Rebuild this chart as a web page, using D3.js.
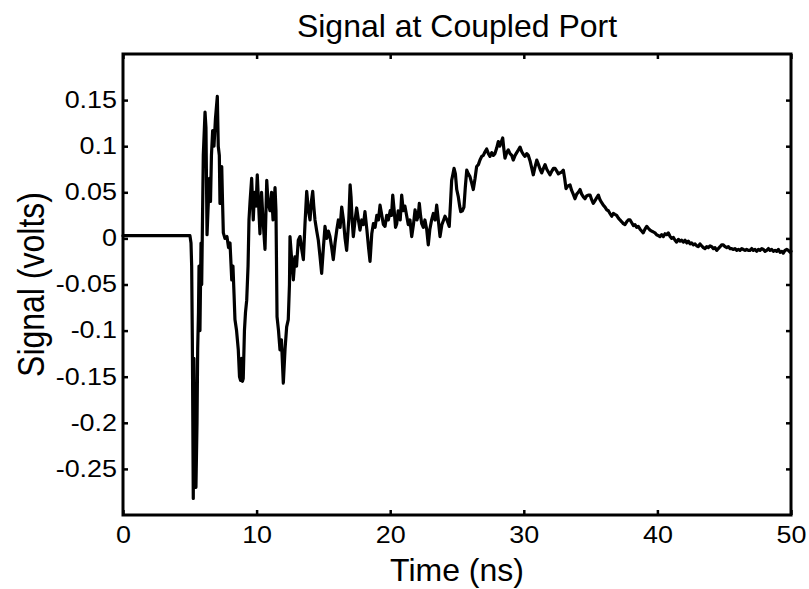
<!DOCTYPE html>
<html>
<head>
<meta charset="utf-8">
<script src="https://cdn.jsdelivr.net/npm/d3@7"></script>
<style>
  html, body { margin: 0; padding: 0; background: #fff; }
  text { font-family: "Liberation Sans", Arial, Helvetica, sans-serif; fill: #000; }
</style>
</head>
<body>
<svg id="chart" width="809" height="589"></svg>
<script>
// ---- data ----
const timeNs = [
  0.00, 4.95, 5.01, 5.09, 5.14, 5.19, 5.26, 5.31, 5.39, 5.46, 5.54, 5.59, 5.65, 5.69, 5.76, 5.84, 5.89, 5.95,
  6.01, 6.14, 6.21, 6.29, 6.36, 6.47, 6.55, 6.62, 6.71, 6.81, 6.92, 7.06, 7.13, 7.21, 7.26, 7.34, 7.39, 7.45,
  7.51, 7.63, 7.78, 7.90, 8.01, 8.14, 8.23, 8.31, 8.38, 8.50, 8.63, 8.72, 8.80, 8.87, 8.94, 9.00, 9.09, 9.17,
  9.26, 9.36, 9.43, 9.51, 9.63, 9.75, 9.84, 9.96, 10.05, 10.14, 10.25, 10.37, 10.48, 10.63, 10.76, 10.85,
  11.00, 11.12, 11.23, 11.38, 11.45, 11.53, 11.64, 11.75, 11.86, 12.00, 12.13, 12.25, 12.37, 12.46, 12.50,
  12.61, 12.75, 12.87, 12.99, 13.12,
  13.25, 13.38, 13.50, 13.62, 13.75, 13.88, 14.00, 14.10, 14.20, 14.28, 14.37, 14.50, 14.62, 14.75, 14.87,
  15.00, 15.12, 15.25, 15.37, 15.49, 15.62, 15.74, 15.87, 16.00, 16.12, 16.25, 16.37, 16.50, 16.62, 16.74,
  16.90, 17.00, 17.07, 17.15, 17.24, 17.37, 17.49, 17.62, 17.74, 17.87, 18.00, 18.11, 18.25, 18.38, 18.49,
  18.62, 18.74, 18.87, 19.00, 19.12, 19.24, 19.37, 19.49, 19.61, 19.74, 19.86, 20.00, 20.10, 20.19, 20.30,
  20.40, 20.49, 20.60, 20.75, 20.86, 20.98, 21.10, 21.24, 21.35, 21.48, 21.61, 21.74, 21.86, 22.00, 22.10,
  22.18, 22.27, 22.36, 22.48, 22.60, 22.73, 22.85, 22.97, 23.10, 23.23, 23.36, 23.48, 23.60, 23.73, 23.87,
  24.00, 24.10, 24.25, 24.42, 24.52, 24.60, 24.70, 24.78, 24.88, 24.98, 25.10, 25.20, 25.28, 25.40, 25.52,
  25.62, 25.73, 25.85, 25.97, 26.10, 26.22, 26.35, 26.47, 26.60, 26.72, 26.85, 26.97, 27.10, 27.22, 27.35,
  27.47, 27.60, 27.72, 27.84, 27.97, 28.09, 28.20, 28.30, 28.42, 28.50, 28.59, 28.72, 28.84, 28.97, 29.10,
  29.21, 29.35, 29.47, 29.60, 29.72, 29.85, 29.97, 30.09, 30.22, 30.34, 30.47, 30.60, 30.71, 30.85, 30.97,
  31.10, 31.22, 31.34, 31.47, 31.59, 31.72, 31.84, 31.96, 32.10, 32.22, 32.34, 32.47, 32.59, 32.71, 32.84,
  32.96, 33.06, 33.16, 33.30, 33.46, 33.58, 33.70, 33.83, 33.96, 34.08, 34.21, 34.33, 34.46, 34.58, 34.70,
  34.83, 34.96, 35.08, 35.20, 35.33, 35.45, 35.58, 35.70, 35.82, 35.95, 36.08, 36.21, 36.33, 36.45, 36.58,
  36.70, 36.82, 36.95, 37.08, 37.20, 37.33, 37.45, 37.57, 37.70, 37.82, 37.95, 38.08, 38.20, 38.32, 38.45,
  38.57, 38.70, 38.82, 38.94, 39.07, 39.20, 39.32, 39.45, 39.57, 39.69, 39.82, 39.94, 40.07, 40.19, 40.32,
  40.45, 40.57, 40.70, 40.82, 40.95, 41.07, 41.20, 41.32, 41.44, 41.57, 41.70, 41.82, 41.95, 42.07, 42.20,
  42.32, 42.45, 42.57, 42.70, 42.82, 42.94, 43.06, 43.19, 43.31, 43.44, 43.56, 43.69, 43.81, 43.94, 44.06,
  44.19, 44.31, 44.44, 44.56, 44.69, 44.81, 44.93, 45.06, 45.19, 45.31, 45.44, 45.56, 45.69, 45.81, 45.94,
  46.06, 46.18, 46.31, 46.43, 46.56, 46.68, 46.81, 46.93, 47.06, 47.18, 47.31, 47.43, 47.56, 47.68, 47.81,
  47.93, 48.06, 48.18, 48.31, 48.43, 48.56, 48.68, 48.81, 48.93, 49.06, 49.18, 49.31, 49.42, 49.55, 49.68,
  49.80, 49.93, 50.00
];
const signalVolts = [
  0.003, 0.003, 0.003, -0.005, -0.03, -0.11, -0.282, -0.13, -0.25, -0.27, -0.2, -0.12, -0.08, -0.03, -0.1, -0.005, -0.05, 0.02,
  0.09, 0.137, 0.12, 0.004, 0.03, 0.065, 0.04, 0.09, 0.117, 0.1, 0.13, 0.154, 0.1, 0.09, 0.038, 0.06, 0.078, 0.04,
  0.006, 0.0, 0.002, -0.01, -0.005, -0.045, -0.03, -0.06, -0.088, -0.1, -0.121, -0.15, -0.154, -0.13, -0.155, -0.152, -0.1, -0.08,
  -0.067, -0.03, 0.02, 0.04, 0.065, 0.02, 0.05, 0.035, 0.069, 0.04, 0.005, 0.05, 0.02, -0.012, 0.063, 0.04,
  0.03, 0.05, 0.02, 0.055, 0.03, -0.085, -0.1, -0.121, -0.11, -0.157, -0.12, -0.096, -0.088, -0.05, 0.002,
  -0.02, -0.045, -0.02, -0.03, -0.002,
  0.002, -0.012, -0.023, 0.015, 0.051, 0.03, 0.02, 0.04, 0.051, 0.035, 0.02, 0.008, -0.002, -0.02, -0.038,
  -0.01, 0.013, 0.0, 0.008, 0.002, -0.01, -0.023, -0.005, 0.009, 0.02, 0.012, 0.034, 0.02, 0.0, -0.013,
  0.02, 0.058, 0.045, 0.02, 0.002, 0.02, 0.033, 0.02, 0.009, 0.02, 0.015, 0.029, 0.01, -0.01, -0.025,
  0.005, 0.016, 0.012, 0.025, 0.02, 0.036, 0.025, 0.015, 0.013, 0.025, 0.02, 0.03, 0.025, 0.047, 0.03,
  0.012, 0.016, 0.03, 0.02, 0.047, 0.03, 0.035, 0.024, 0.015, 0.02, 0.002, 0.015, 0.031, 0.02, 0.025,
  0.038, 0.025, 0.016, 0.012, 0.02, 0.01, -0.007, 0.01, 0.02, 0.027, 0.02, 0.036, 0.02, 0.002, 0.015,
  0.02, 0.024, 0.02, 0.013, 0.04, 0.063, 0.07, 0.076, 0.07, 0.053, 0.045, 0.035, 0.029, 0.03, 0.034,
  0.055, 0.074, 0.07, 0.067, 0.06, 0.053, 0.065, 0.078, 0.08, 0.085, 0.089, 0.09, 0.094, 0.097, 0.092,
  0.089, 0.093, 0.09, 0.092, 0.098, 0.105, 0.1, 0.104, 0.109, 0.098, 0.087, 0.093, 0.096, 0.092, 0.09,
  0.085, 0.09, 0.093, 0.096, 0.099, 0.094, 0.091, 0.089, 0.092, 0.09, 0.084, 0.076, 0.069, 0.078, 0.085,
  0.08, 0.075, 0.071, 0.076, 0.08, 0.075, 0.072, 0.069, 0.073, 0.076, 0.076, 0.073, 0.07, 0.071, 0.072,
  0.074, 0.065, 0.054, 0.057, 0.058, 0.052, 0.048, 0.043, 0.048, 0.05, 0.053, 0.048, 0.045, 0.043, 0.046,
  0.047, 0.047, 0.042, 0.038, 0.041, 0.044, 0.047, 0.042, 0.039, 0.036, 0.034, 0.031, 0.03, 0.027, 0.024,
  0.027, 0.026, 0.025, 0.022, 0.02, 0.018, 0.016, 0.015, 0.018, 0.02, 0.02, 0.017, 0.014, 0.015, 0.012,
  0.013, 0.01, 0.008, 0.006, 0.01, 0.013, 0.011, 0.009, 0.008, 0.007, 0.006, 0.004, 0.003, 0.002, 0.004,
  0.002, 0.005, 0.004, 0.006, 0.002, 0.0, 0.001, -0.002, -0.004, -0.001, -0.003, -0.002, -0.004, -0.002, -0.005,
  -0.003, -0.006, -0.005, -0.007, -0.006, -0.008, -0.009, -0.006, -0.008, -0.01, -0.011, -0.009, -0.01, -0.008, -0.009,
  -0.011, -0.01, -0.013, -0.011, -0.009, -0.007, -0.007, -0.009, -0.01, -0.009, -0.011, -0.011, -0.012, -0.011, -0.013,
  -0.012, -0.013, -0.011, -0.012, -0.013, -0.012, -0.013, -0.013, -0.011, -0.013, -0.012, -0.014, -0.012, -0.013, -0.011,
  -0.012, -0.014, -0.013, -0.011, -0.013, -0.012, -0.014, -0.013, -0.014, -0.012, -0.015, -0.014, -0.016, -0.013, -0.012,
  -0.013, -0.015, -0.014
];
const xTicks = [0, 10, 20, 30, 40, 50];
const yTicks = [-0.25, -0.2, -0.15, -0.1, -0.05, 0, 0.05, 0.1, 0.15];
const xDomain = [0, 50];
const yDomain = [-0.3, 0.2];
const titleText = "Signal at Coupled Port";
const xLabelText = "Time (ns)";
const yLabelText = "Signal (volts)";

(function () {
  // ---- layout ----
  const pL = 123, pR = 791, pT = 54, pB = 515;
  const svg = d3.select("#chart");
  svg.append("rect").attr("width", 809).attr("height", 589).attr("fill", "#fff");

  const x = d3.scaleLinear().domain(xDomain).range([pL, pR]);
  const y = d3.scaleLinear().domain(yDomain).range([pB, pT]);

  const fmt = v => String(+v.toFixed(2));
  const tickStretch = 1.17;

  // signal line
  const n = Math.min(timeNs.length, signalVolts.length);
  const pts = d3.range(n).map(i => [timeNs[i], signalVolts[i]]);
  svg.append("path")
    .datum(pts)
    .attr("fill", "none")
    .attr("stroke", "#000")
    .attr("stroke-width", 3.2)
    .attr("stroke-linejoin", "round")
    .attr("stroke-linecap", "round")
    .attr("d", d3.line().x(d => x(d[0])).y(d => y(d[1])));

  // axes
  const gB = svg.append("g").attr("transform", `translate(0,${pB})`)
    .call(d3.axisBottom(x).tickValues(xTicks).tickSize(-5).tickSizeOuter(0).tickPadding(12).tickFormat(fmt));
  const gL = svg.append("g").attr("transform", `translate(${pL},0)`)
    .call(d3.axisLeft(y).tickValues(yTicks).tickSize(-5).tickSizeOuter(0).tickPadding(6).tickFormat(fmt));
  const gT = svg.append("g").attr("transform", `translate(0,${pT})`)
    .call(d3.axisTop(x).tickValues(xTicks).tickSize(-5).tickSizeOuter(0).tickFormat(""));
  const gR = svg.append("g").attr("transform", `translate(${pR},0)`)
    .call(d3.axisRight(y).tickValues(yTicks).tickSize(-5).tickSizeOuter(0).tickFormat(""));

  [gB, gL, gT, gR].forEach(g => {
    g.select(".domain").remove();
    g.selectAll(".tick line").attr("stroke", "#000").attr("stroke-width", 2.5);
    g.selectAll("text").attr("font-size", 23).attr("font-family", "Liberation Sans, Arial, sans-serif").attr("fill", "#000");
  });
  gL.selectAll(".tick text").each(function () {
    const t = d3.select(this);
    const xx = +t.attr("x");
    t.attr("x", 0).attr("transform", `translate(${xx},0) scale(${tickStretch},1)`);
  });
  gB.selectAll(".tick text").attr("transform", `scale(${tickStretch},1)`);

  // box
  svg.append("rect")
    .attr("x", pL).attr("y", pT)
    .attr("width", pR - pL).attr("height", pB - pT)
    .attr("fill", "none").attr("stroke", "#000").attr("stroke-width", 3);

  // title & labels
  svg.append("text").attr("x", (pL + pR) / 2).attr("y", 36.5)
    .attr("text-anchor", "middle").attr("font-size", 32).text(titleText);
  svg.append("text").attr("x", (pL + pR) / 2).attr("y", 581)
    .attr("text-anchor", "middle").attr("font-size", 32).text(xLabelText);
  svg.append("text")
    .attr("transform", `translate(44,${(pT + pB) / 2}) rotate(-90) scale(1,${tickStretch})`)
    .attr("text-anchor", "middle").attr("font-size", 32).text(yLabelText);
})();
</script>
</body>
</html>
